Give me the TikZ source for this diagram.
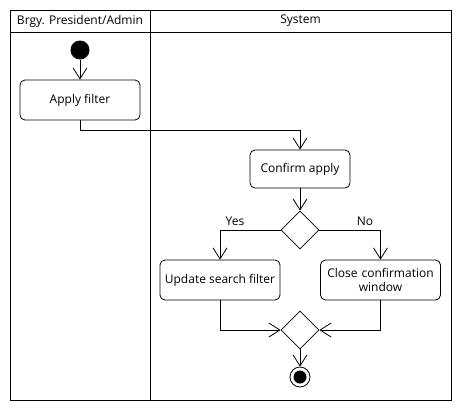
\documentclass[tikz,border=0pt]{standalone}
\usepackage{fontspec}
\setmainfont{Open Sans}
\usetikzlibrary{arrows.meta,shapes.geometric}
\begin{document}
\begin{tikzpicture}[x=1pt,y=-1pt,
  txt/.style={font=\fontsize{12}{14}\selectfont},
  act/.style={draw, rounded corners=5pt, line width=0.8pt, align=center, inner sep=0pt, txt},
  dec/.style={draw, diamond, minimum width=38pt, minimum height=38pt, inner sep=0pt, line width=0.8pt},
  flow/.style={line width=0.8pt, -{Straight Barb[length=11pt,width=14pt,line width=0.8pt]}},
  lane/.style={draw, line width=1pt}
]
\useasboundingbox (0,0) rectangle (460,410);
% swimlanes
\draw[lane] (10,10) rectangle (451,400);
\draw[lane] (10,32) -- (451,32);
\draw[lane] (150,10) -- (150,400);
\node[txt] (h1) at (80,21) {Brgy. President/Admin};
\node[txt] (h2) at (300.5,21) {System};
% nodes
\node[circle, fill=black, minimum size=19pt, inner sep=0pt] (start) at (80,50) {};
\node[act, minimum width=120pt, minimum height=40pt] (apply) at (80,100) {Apply filter};
\node[act, minimum width=100pt, minimum height=38pt] (confirm) at (300,169) {Confirm apply};
\node[dec] (dec1) at (300,230) {};
\node[act, minimum width=120pt, minimum height=40pt] (update) at (220,280) {Update search filter};
\node[act, minimum width=120pt, minimum height=40pt, text width=116pt] (close) at (380.5,280) {Close confirmation\\window};
\node[dec] (merge) at (300,330) {};
\node[circle, draw, line width=0.8pt, minimum size=20pt, inner sep=0pt] (end) at (300,377) {};
\fill (end.center) circle (6.5pt);
\coordinate (c1) at (300,130);
% connectors
\draw[flow] (start) -- (apply);
\draw[flow] (apply.south) |- (c1) -- (confirm.north);
\draw[flow] (confirm) -- (dec1);
\draw[flow] (dec1.west) -| (update.north);
\draw[flow] (dec1.east) -| (close.north);
\node[txt] (yes) at (235,221) {Yes};
\node[txt] (no) at (365,221) {No};
\draw[flow] (update.south) |- (merge.west);
\draw[flow] (close.south) |- (merge.east);
\draw[flow] (merge) -- (end);
\end{tikzpicture}
\end{document}
